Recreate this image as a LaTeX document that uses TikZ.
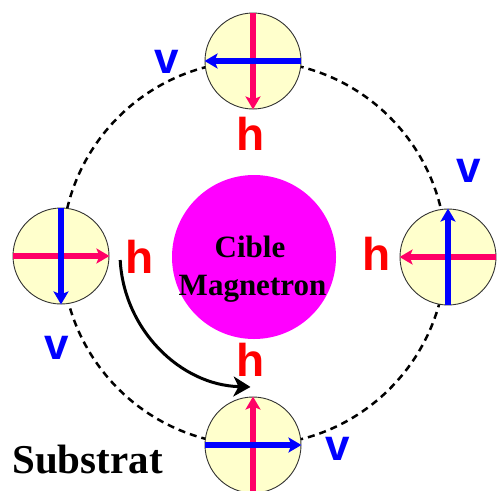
\documentclass[tikz,border=0pt]{standalone}
\usepackage{fontspec}
\setmainfont{Liberation Serif}
\newfontfamily\lsans{Liberation Sans}
\usetikzlibrary{arrows.meta}
\definecolor{satfill}{HTML}{FFFFCC}
\definecolor{hred}{HTML}{FF0066}
\definecolor{lblred}{HTML}{FF0000}
\definecolor{vblue}{HTML}{0000FF}
\definecolor{magen}{HTML}{FF00FF}
\tikzset{
  sat/.style={circle, draw=black!80, line width=0.9pt, fill=satfill, minimum size=96pt, inner sep=0pt},
  harrow/.style={draw=hred, line width=6pt, -{Stealth[length=13pt,width=15pt,inset=3pt]}},
  varrow/.style={draw=vblue, line width=6pt, -{Stealth[length=13pt,width=15pt,inset=3pt]}},
  hlbl/.style={text=lblred, font=\lsans\bfseries\fontsize{46}{46}\selectfont, inner sep=0pt},
  vlbl/.style={text=vblue, font=\lsans\bfseries\fontsize{44}{44}\selectfont, inner sep=0pt},
  ttl/.style={font=\bfseries\fontsize{31}{36}\selectfont, inner sep=0pt, anchor=base},
}
\begin{document}
\begin{tikzpicture}[x=1pt,y=-1pt]
\useasboundingbox (0,0) rectangle (497,490);
\fill[white] (0,0) rectangle (497,490);
% orbit
\coordinate (oc) at (254,253);
\draw[line width=2.5pt, dash pattern=on 7pt off 5pt] (oc) circle[radius=192];
% target
\node[circle, fill=magen, minimum size=164pt, inner sep=0pt] (cible) at (254,257) {};
\node[ttl] (t1) at (250,257) {Cible};
\node[ttl] (t2) at (252.5,295) {Magnetron};
% satellites
\node[sat] (st) at (253,61) {};
\node[sat] (sl) at (61,256) {};
\node[sat] (sr) at (448,257) {};
\node[sat] (sb) at (253,445) {};
% top
\draw[harrow] (st.north) -- (st.south);
\draw[varrow] (st.east) -- (st.west);
% left
\draw[harrow] (sl.west) -- (sl.east);
\draw[varrow] (sl.north) -- (sl.south);
% right
\draw[harrow] (sr.east) -- (sr.west);
\draw[varrow] (sr.south) -- (sr.north);
% bottom
\draw[harrow] (sb.south) -- (sb.north);
\draw[varrow] (sb.west) -- (sb.east);
% labels
\node[hlbl] (h1) at (251,134) {h};
\node[hlbl] (h2) at (140,257) {h};
\node[hlbl] (h3) at (377,254) {h};
\node[hlbl] (h4) at (251,360) {h};
\node[vlbl] (v1) at (167,62) {v};
\node[vlbl] (v2) at (469,171) {v};
\node[vlbl] (v3) at (57,348) {v};
\node[vlbl] (v4) at (338,449) {v};
% rotation arrow
\draw[line width=3pt, -{Stealth[length=17pt,width=20pt,inset=5pt]}] (oc) ++(177:134) arc[start angle=177, end angle=91.5, radius=134];
% substrate
\node[font=\bfseries\fontsize{41}{41}\selectfont, inner sep=0pt, anchor=base] (sub) at (87.5,473) {Substrat};
\end{tikzpicture}
\end{document}
